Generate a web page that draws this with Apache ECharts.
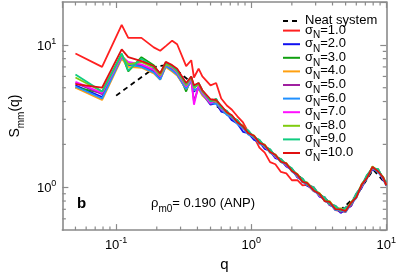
<!DOCTYPE html>
<html><head><meta charset="utf-8">
<script src="https://cdn.jsdelivr.net/npm/echarts@6/dist/echarts.min.js"></script>
<style>html,body{margin:0;padding:0;background:#fff}#c{width:399px;height:277px}</style>
</head><body><div id="c"></div>
<script>
const Q = [0.05, 0.0787, 0.11, 0.123, 0.154, 0.19, 0.212, 0.233, 0.26, 0.283, 0.33, 0.36, 0.377, 0.408, 0.435,
  0.5, 0.55, 0.6, 0.66, 0.72, 0.79, 0.87, 0.95, 1.05, 1.15, 1.26, 1.38, 1.51, 1.66, 1.82, 2.0, 2.2, 2.4, 2.6, 2.9,
  3.2, 3.5, 3.8, 4.2, 4.6, 5.0, 5.5, 6.0, 6.6, 7.2, 7.9, 8.7, 9.5, 10];
const neatQ = [0.1, 0.2, 0.25, 0.3, 0.4, 0.5, 0.7, 1.0, 1.5, 2.0, 3.0, 4.5, 6.0, 8.0, 10];
const neatS = [4.4, 7.1, 7.2, 6.3, 5.0, 4.0, 3.15, 2.3, 1.66, 1.32, 0.95, 0.68, 0.87, 1.33, 1.05];
const s1 = [8.7, 7.0, 13.8, 11.2, 11.2, 9.6, 9.1, 9.8, 10.7, 10.1, 7.1, 7.8, 5.9, 6.8, 6.0,
  5.2, 5.4, 4.2, 3.75, 3.5, 3.15, 2.85, 2.45, 2.25, 1.9, 1.75, 1.5, 1.45, 1.28, 1.25, 1.12, 1.12, 1.03, 1.04, 0.94,
  0.9, 0.8, 0.78, 0.69, 0.68, 0.67, 0.77, 0.85, 1.04, 1.18, 1.37, 1.29, 1.16, 1.03];
const s2 = [5.2, 4.3, 8.1, 7.2, 7.1, 6.5, 5.8, 7.1, 6.7, 6.2, 4.9, 5.6, 4.7, 5.0, 4.5,
  3.8, 3.9, 3.4, 3.3, 2.95, 2.8, 2.45, 2.4, 2.15, 2.08, 1.86, 1.8, 1.6, 1.55, 1.4, 1.33, 1.17, 1.12, 1.02, 0.98,
  0.86, 0.83, 0.75, 0.72, 0.66, 0.7, 0.74, 0.88, 1.0, 1.19, 1.33, 1.32, 1.12, 1.05];
const s3 = [5.0, 4.6, 8.6, 6.5, 8.2, 7.2, 6.2, 7.4, 7.0, 6.7, 4.7, 5.9, 5.0, 5.3, 4.7,
  4.0, 4.15, 3.55, 3.42, 3.08, 2.95, 2.6, 2.5, 2.22, 2.14, 1.92, 1.84, 1.64, 1.57, 1.43, 1.35, 1.19, 1.14, 1.04, 1.0,
  0.87, 0.85, 0.76, 0.74, 0.68, 0.72, 0.76, 0.9, 1.02, 1.21, 1.35, 1.34, 1.14, 1.08];
const s4 = [5.0, 4.1, 8.0, 7.0, 6.9, 6.3, 5.7, 7.0, 6.5, 6.1, 4.9, 5.5, 4.8, 4.9, 4.4,
  3.9, 3.9, 3.55, 3.25, 3.1, 2.8, 2.62, 2.36, 2.27, 2.03, 1.96, 1.75, 1.67, 1.5, 1.46, 1.3, 1.22, 1.09, 1.07, 0.95,
  0.9, 0.8, 0.79, 0.7, 0.7, 0.68, 0.78, 0.85, 1.05, 1.16, 1.38, 1.29, 1.17, 1.03];
const s5 = [5.4, 4.5, 8.3, 7.4, 7.2, 6.6, 5.9, 7.2, 6.8, 6.3, 5.0, 5.7, 4.0, 5.1, 4.6,
  3.85, 4.05, 3.5, 3.36, 3.04, 2.9, 2.58, 2.46, 2.21, 2.12, 1.9, 1.83, 1.63, 1.56, 1.41, 1.34, 1.18, 1.13, 1.03, 0.99,
  0.87, 0.84, 0.75, 0.73, 0.67, 0.71, 0.74, 0.89, 1.01, 1.2, 1.34, 1.32, 1.13, 1.07];
const s6 = [5.1, 4.2, 8.2, 7.3, 7.0, 6.4, 5.7, 7.1, 6.6, 6.2, 4.9, 5.6, 4.8, 5.0, 4.5,
  3.9, 3.85, 3.55, 3.22, 3.08, 2.78, 2.6, 2.35, 2.25, 2.02, 1.94, 1.75, 1.66, 1.5, 1.45, 1.29, 1.21, 1.08, 1.06, 0.94,
  0.89, 0.8, 0.78, 0.69, 0.69, 0.67, 0.77, 0.84, 1.04, 1.15, 1.37, 1.27, 1.16, 1.02];
const s7 = [5.5, 4.6, 8.3, 7.6, 7.3, 6.7, 6.0, 7.3, 6.9, 6.4, 5.1, 5.8, 3.8, 5.2, 4.6,
  3.9, 4.1, 3.55, 3.4, 3.08, 2.94, 2.6, 2.48, 2.23, 2.14, 1.92, 1.83, 1.63, 1.57, 1.43, 1.35, 1.19, 1.14, 1.04, 1.0,
  0.87, 0.85, 0.76, 0.74, 0.68, 0.72, 0.76, 0.9, 1.02, 1.21, 1.36, 1.33, 1.14, 1.08];
const s8 = [5.9, 4.7, 8.5, 7.3, 7.6, 6.9, 6.1, 7.3, 7.0, 6.5, 5.2, 5.9, 5.0, 5.3, 4.7,
  4.05, 4.05, 3.68, 3.34, 3.18, 2.86, 2.7, 2.42, 2.31, 2.07, 1.99, 1.78, 1.7, 1.52, 1.48, 1.31, 1.24, 1.1, 1.08, 0.96,
  0.91, 0.81, 0.8, 0.71, 0.71, 0.69, 0.79, 0.86, 1.06, 1.17, 1.4, 1.3, 1.18, 1.04];
const s9 = [6.2, 4.7, 8.7, 6.6, 8.0, 7.0, 6.3, 7.5, 7.1, 6.6, 5.3, 6.0, 5.1, 5.4, 4.8,
  4.0, 4.18, 3.6, 3.44, 3.1, 2.96, 2.62, 2.5, 2.24, 2.15, 1.93, 1.85, 1.65, 1.58, 1.44, 1.36, 1.2, 1.15, 1.04, 1.0,
  0.88, 0.85, 0.76, 0.74, 0.68, 0.72, 0.76, 0.9, 1.03, 1.22, 1.36, 1.34, 1.15, 1.09];
const s10 = [5.3, 5.0, 9.3, 8.2, 7.7, 7.1, 6.3, 7.6, 7.2, 6.8, 5.4, 6.0, 5.2, 5.4, 4.8,
  4.15, 4.1, 3.75, 3.36, 3.2, 2.86, 2.68, 2.4, 2.3, 2.05, 1.98, 1.77, 1.69, 1.51, 1.47, 1.3, 1.23, 1.09, 1.07, 0.95,
  0.9, 0.8, 0.79, 0.7, 0.7, 0.68, 0.78, 0.85, 1.05, 1.16, 1.39, 1.29, 1.17, 1.03];
const seriesNames = ['σN=1.0','σN=2.0','σN=3.0','σN=4.0','σN=5.0','σN=6.0','σN=7.0','σN=8.0','σN=9.0','σN=10.0'];
const seriesVals = [s1, s2, s3, s4, s5, s6, s7, s8, s9, s10];
const colors = ['#ff2020','#1010f0','#10a010','#ffa010','#a020a0','#2090ff','#ff10ff','#80cc10','#10cc80','#e01010'];
const xMinor = [0.05,0.06,0.07,0.08,0.09,0.2,0.3,0.4,0.5,0.6,0.7,0.8,0.9,2,3,4,5,6,7,8,9];
const yMinor = [0.6,0.7,0.8,0.9,2,3,4,5,6,7,8,9];
const X_MIN = 0.04, X_MAX = 10, Y_MIN = 0.5, Y_MAX = 20;

const FONT = 'Liberation Sans, Arial, sans-serif';
const AX = '#8a8a8a';
const chart = echarts.init(document.getElementById('c'), null, {renderer: 'canvas'});

function expLabel(v) {
  const e = Math.round(Math.log10(v));
  return '{b|10}{s|' + e + '}';
}
const labRich = {
  b: {fontSize: 13, lineHeight: 16, color: '#000', fontFamily: FONT, verticalAlign: 'bottom'},
  s: {fontSize: 9, lineHeight: 9, color: '#000', fontFamily: FONT, verticalAlign: 'top'}
};

const lineSeries = [{
  name: 'Neat system', type: 'line', data: neatQ.map((q, i) => [q, neatS[i]]),
  showSymbol: false, symbol: 'none', z: 1,
  lineStyle: {color: '#000', width: 1.8, type: [5, 4]}, itemStyle: {color: '#000'}
}];
seriesNames.forEach((n, k) => {
  lineSeries.push({
    name: n, type: 'line', data: Q.map((q, i) => [q, seriesVals[k][i]]),
    showSymbol: false, symbol: 'none', z: 2 + k,
    lineStyle: {color: colors[k], width: 1.8}, itemStyle: {color: colors[k]}
  });
});

const tickStyle = {stroke: AX, lineWidth: 1.2};
lineSeries.push({
  type: 'custom', silent: true, clip: false, z: 20,
  data: xMinor.map(v => [v, Y_MIN]),
  renderItem: function (params, api) {
    const b = api.coord([api.value(0), Y_MIN]);
    const t = api.coord([api.value(0), Y_MAX]);
    return {type: 'group', children: [
      {type: 'line', shape: {x1: b[0], y1: b[1], x2: b[0], y2: b[1] - 3.5}, style: tickStyle},
      {type: 'line', shape: {x1: t[0], y1: t[1], x2: t[0], y2: t[1] + 3.5}, style: tickStyle}
    ]};
  }
});
lineSeries.push({
  type: 'custom', silent: true, clip: false, z: 20,
  data: yMinor.map(v => [X_MIN, v]),
  renderItem: function (params, api) {
    const l = api.coord([X_MIN, api.value(1)]);
    const r = api.coord([X_MAX, api.value(1)]);
    return {type: 'group', children: [
      {type: 'line', shape: {x1: l[0], y1: l[1], x2: l[0] + 3.5, y2: l[1]}, style: tickStyle},
      {type: 'line', shape: {x1: r[0], y1: r[1], x2: r[0] - 3.5, y2: r[1]}, style: tickStyle}
    ]};
  }
});

const axisCommon = {
  type: 'log', logBase: 10,
  axisLine: {show: true, onZero: false, lineStyle: {color: AX, width: 1.6}},
  axisTick: {show: true, inside: true, length: 6, lineStyle: {color: AX, width: 1.2}},
  splitLine: {show: false}, minorTick: {show: false}
};

chart.setOption({
  animation: false,
  textStyle: {fontFamily: FONT},
  grid: {left: 43, top: 2, right: 10, bottom: 34, containLabel: false},
  xAxis: [
    Object.assign({}, axisCommon, {
      position: 'bottom', min: X_MIN, max: X_MAX, splitNumber: 3,
      name: 'q', nameLocation: 'middle', nameGap: 18,
      nameTextStyle: {fontSize: 15, color: '#000', fontFamily: FONT},
      axisLabel: {show: true, margin: 6, showMinLabel: false, formatter: expLabel, rich: labRich}
    }),
    Object.assign({}, axisCommon, {
      position: 'top', min: X_MIN, max: X_MAX, splitNumber: 3, axisLabel: {show: false}
    })
  ],
  yAxis: [
    Object.assign({}, axisCommon, {
      position: 'left', min: Y_MIN, max: Y_MAX, splitNumber: 2,
      name: '{a|S}{n|mm}{a|(q)}', nameLocation: 'middle', nameGap: 30, nameRotate: 90,
      nameTextStyle: {rich: {
        a: {fontSize: 14, lineHeight: 18, color: '#000', fontFamily: FONT, verticalAlign: 'top'},
        n: {fontSize: 10, lineHeight: 10, padding: [8, 0, 0, 0], color: '#000', fontFamily: FONT, verticalAlign: 'top'}
      }},
      axisLabel: {show: true, margin: 6, showMinLabel: false, showMaxLabel: false, formatter: expLabel, rich: labRich}
    }),
    Object.assign({}, axisCommon, {
      position: 'right', min: Y_MIN, max: Y_MAX, splitNumber: 2, axisLabel: {show: false}
    })
  ],
  legend: {
    orient: 'vertical', left: 277, top: 9, itemWidth: 17, itemHeight: 10, itemGap: -3.4,
    selectedMode: false,
    itemStyle: {opacity: 0},
    data: ['Neat system'].concat(seriesNames),
    formatter: function (name) {
      if (name === 'Neat system') return '{m|Neat system}';
      return '{m|σ}{n|N}{m|' + name.slice(2) + '}';
    },
    textStyle: {color: '#000', fontSize: 13, fontFamily: FONT, rich: {
      m: {fontSize: 13, lineHeight: 14, color: '#000', fontFamily: FONT, verticalAlign: 'top'},
      n: {fontSize: 10, lineHeight: 10, padding: [7, 0, 0, 0], color: '#000', fontFamily: FONT, verticalAlign: 'top'}
    }}
  },
  graphic: [
    {type: 'text', left: 77, top: 196, style: {text: 'b', font: 'bold 15px ' + FONT, fill: '#000'}},
    {type: 'text', left: 151, top: 197, style: {
      text: '{a|ρ}{n|m0}{a|= 0.190 (ANP)}',
      rich: {
        a: {fontSize: 13, lineHeight: 14, fill: '#000', fontFamily: FONT, verticalAlign: 'top'},
        n: {fontSize: 10, lineHeight: 10, padding: [7, 0, 0, 0], fill: '#000', fontFamily: FONT, verticalAlign: 'top'}
      }
    }}
  ],
  series: lineSeries
});
</script></body></html>
